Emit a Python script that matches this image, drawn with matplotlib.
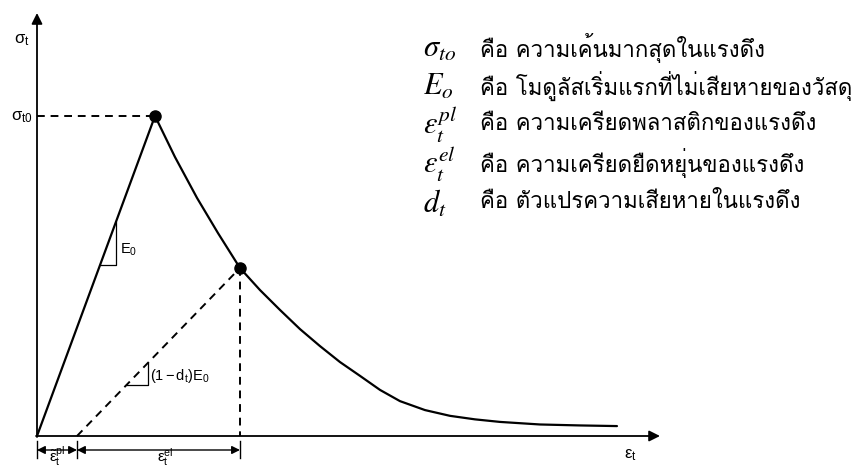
import matplotlib
matplotlib.use("Agg")
import matplotlib.pyplot as plt

# Tension softening curve (normalised: sigma_t0 = 1, peak strain = 1)
sigma_t0 = 1.0
eps_peak = 1.0
loading_strain = [0.0, eps_peak]
loading_stress = [0.0, sigma_t0]
softening_strain = [1.000, 1.169, 1.356, 1.534, 1.720, 1.890, 2.059, 2.229, 2.398, 2.568,
                    2.737, 2.907, 3.076, 3.288, 3.500, 3.712, 3.924, 4.263, 4.602, 4.915]
softening_stress = [1.000, 0.872, 0.744, 0.634, 0.525, 0.456, 0.394, 0.334, 0.281, 0.231,
                    0.188, 0.144, 0.109, 0.081, 0.063, 0.052, 0.044, 0.036, 0.033, 0.031]
eps_damaged = 1.720
sig_damaged = 0.525
eps_plastic = 0.339

symbols = [r"$\sigma_{to}$", r"$E_o$", r"$\varepsilon_t^{pl}$", r"$\varepsilon_t^{el}$", r"$d_t$"]
descriptions = [
    "คือ ความเค้นมากสุดในแรงดึง",
    "คือ โมดูลัสเริ่มแรกที่ไม่เสียหายของวัสดุ",
    "คือ ความเครียดพลาสติกของแรงดึง",
    "คือ ความเครียดยืดหยุ่นของแรงดึง",
    "คือ ตัวแปรความเสียหายในแรงดึง",
]

plt.rcParams["mathtext.fontset"] = "stix"

W, H = 862, 469
X0, Y0 = 37, 436      # origin in pixels
SX, SY = 118, 320     # pixels per unit strain / stress

fig = plt.figure(figsize=(W / 100, H / 100), dpi=100)
ax = fig.add_axes([0, 0, 1, 1])
ax.set_xlim(-X0 / SX, (W - X0) / SX)
ax.set_ylim(-(H - Y0) / SY, Y0 / SY)
ax.axis("off")


def P(px, py):
    return ((px - X0) / SX, (Y0 - py) / SY)


# axes with arrows
ax.annotate("", xy=P(37, 13), xytext=P(37, 437),
            arrowprops=dict(arrowstyle="-|>", lw=1.3, color="black", mutation_scale=16, shrinkA=0, shrinkB=0))
ax.annotate("", xy=P(660, 436), xytext=P(36, 436),
            arrowprops=dict(arrowstyle="-|>", lw=1.3, color="black", mutation_scale=16, shrinkA=0, shrinkB=0))

lw = 1.6
ax.plot(loading_strain, loading_stress, color="black", lw=lw, solid_capstyle="round")
ax.plot(softening_strain, softening_stress, color="black", lw=lw, solid_capstyle="round",
        solid_joinstyle="round")

dash = (0, (4, 3))
ax.plot([0, eps_peak], [sigma_t0, sigma_t0], color="black", lw=1.4, linestyle=dash)
ax.plot([eps_plastic, eps_damaged], [0, sig_damaged], color="black", lw=1.4, linestyle=dash)
ax.plot([eps_damaged, eps_damaged], [sig_damaged, 0], color="black", lw=1.4, linestyle=dash)

ax.plot([eps_peak, eps_damaged], [sigma_t0, sig_damaged], "o", color="black", ms=8, zorder=5)

# slope triangles
E0 = sigma_t0 / eps_peak
xa, xb = 0.534, 0.669
ax.plot([xa, xb, xb], [E0 * xa, E0 * xa, E0 * xb], color="black", lw=0.9)
Ed = sig_damaged / (eps_damaged - eps_plastic)
xa2, xb2 = 0.758, 0.941
ax.plot([xa2, xb2, xb2], [Ed * (xa2 - eps_plastic)] * 2 + [Ed * (xb2 - eps_plastic)], color="black", lw=0.9)

lab = dict(family="Liberation Sans", color="black")
ax.text(*P(120, 250), r"$\mathregular{E_0}$", fontsize=10.5, ha="left", va="center", **lab)
ax.text(*P(150, 376), r"$\mathregular{(1-d_t)E_0}$", fontsize=10.5, ha="left", va="center", **lab)
ax.text(*P(22, 40), r"$\mathregular{\sigma_t}$", fontsize=12, ha="center", va="center", **lab)
ax.text(*P(22, 117), r"$\mathregular{\sigma_{t0}}$", fontsize=12, ha="center", va="center", **lab)
ax.text(*P(630, 455), r"$\mathregular{\epsilon_t}$", fontsize=12, ha="center", va="center", **lab)

# dimension lines under the strain axis
for x in (0, eps_plastic, eps_damaged):
    ax.plot([x, x], [P(0, 441)[1], P(0, 458)[1]], color="black", lw=1.0)
yd = P(0, 450)[1]
for a, b in ((0, eps_plastic), (eps_plastic, eps_damaged)):
    ax.annotate("", xy=(a, yd), xytext=(b, yd),
                arrowprops=dict(arrowstyle="<|-|>", lw=1.0, color="black", mutation_scale=12, shrinkA=0, shrinkB=0))
ax.text(*P(57, 468), r"$\mathregular{\tilde{\epsilon}_t^{pl}}$", fontsize=11, ha="center", va="bottom", **lab)
ax.text(*P(165, 468), r"$\mathregular{\epsilon_t^{el}}$", fontsize=11, ha="center", va="bottom", **lab)

# legend of symbols
row_y = [48, 86, 125, 163, 203]
for s, d, y in zip(symbols, descriptions, row_y):
    ax.text(*P(423, y), s, fontsize=22, ha="left", va="center", color="black")
    ax.text(*P(480, y), d, fontsize=16, ha="left", va="center", color="black",
            family=["Loma", "DejaVu Sans"])

fig.savefig("out.png", dpi=100)
